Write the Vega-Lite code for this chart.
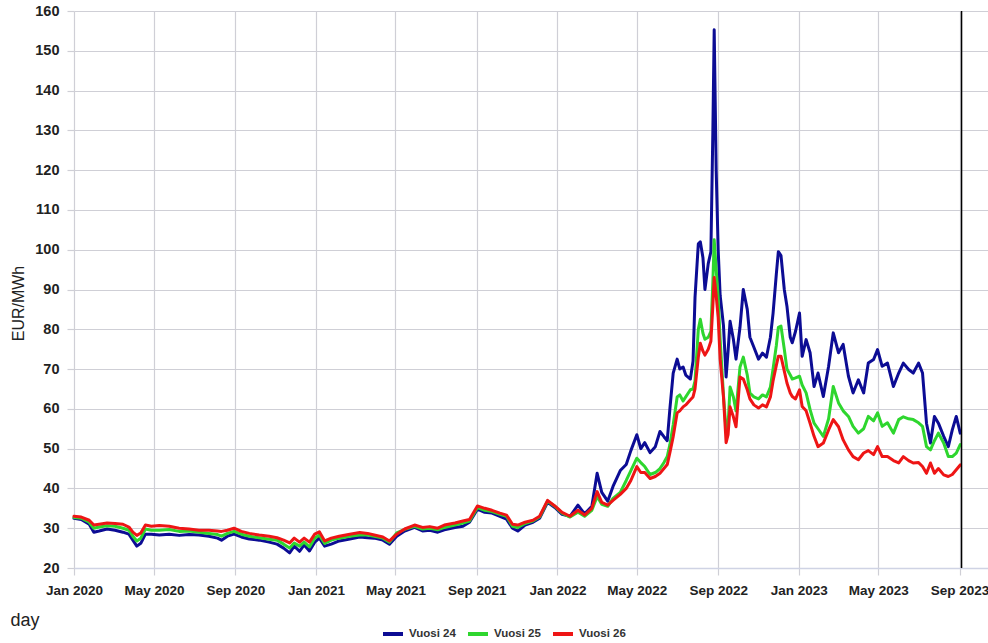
{
  "$schema": "https://vega.github.io/schema/vega-lite/v6.json",
  "autosize": "none",
  "width": 914,
  "height": 557,
  "padding": {"left": 74, "top": 11, "right": 0, "bottom": 75},
  "background": "white",
  "config": {
    "view": {"stroke": null},
    "font": "Liberation Sans, Arial, sans-serif",
    "axis": {
      "gridColor": "#cfcfd6",
      "gridWidth": 1.2,
      "tickColor": "#cfcfd6",
      "tickSize": 7,
      "tickWidth": 1.2,
      "labelFont": "Liberation Sans, Arial, sans-serif",
      "labelFontWeight": "bold",
      "labelFontSize": 14.5,
      "labelColor": "#222222",
      "titleFont": "Liberation Sans, Arial, sans-serif",
      "titleFontWeight": "normal",
      "titleColor": "#222222"
    }
  },
  "layer": [
    {
      "data": {
        "values": [
          {"d": "2020-01-01", "Vuosi 24": 32.5, "Vuosi 25": 32.7, "Vuosi 26": 33.0},
          {"d": "2020-01-12", "Vuosi 24": 32.2, "Vuosi 25": 32.5, "Vuosi 26": 32.8},
          {"d": "2020-01-24", "Vuosi 24": 31.0, "Vuosi 25": 31.5, "Vuosi 26": 32.0},
          {"d": "2020-01-31", "Vuosi 24": 29.0, "Vuosi 25": 30.0, "Vuosi 26": 30.8},
          {"d": "2020-02-08", "Vuosi 24": 29.3, "Vuosi 25": 30.3, "Vuosi 26": 31.0},
          {"d": "2020-02-20", "Vuosi 24": 29.8, "Vuosi 25": 30.6, "Vuosi 26": 31.3},
          {"d": "2020-03-03", "Vuosi 24": 29.5, "Vuosi 25": 30.5, "Vuosi 26": 31.2},
          {"d": "2020-03-15", "Vuosi 24": 29.0, "Vuosi 25": 30.0, "Vuosi 26": 31.0},
          {"d": "2020-03-24", "Vuosi 24": 28.5, "Vuosi 25": 29.5, "Vuosi 26": 30.3},
          {"d": "2020-03-30", "Vuosi 24": 27.0, "Vuosi 25": 28.0, "Vuosi 26": 29.0},
          {"d": "2020-04-05", "Vuosi 24": 25.5, "Vuosi 25": 26.8, "Vuosi 26": 28.2},
          {"d": "2020-04-11", "Vuosi 24": 26.2, "Vuosi 25": 27.5, "Vuosi 26": 28.8},
          {"d": "2020-04-18", "Vuosi 24": 28.5, "Vuosi 25": 29.8, "Vuosi 26": 30.8},
          {"d": "2020-04-27", "Vuosi 24": 28.5, "Vuosi 25": 29.5, "Vuosi 26": 30.5},
          {"d": "2020-05-09", "Vuosi 24": 28.3, "Vuosi 25": 29.5, "Vuosi 26": 30.7},
          {"d": "2020-05-24", "Vuosi 24": 28.5, "Vuosi 25": 29.7, "Vuosi 26": 30.5},
          {"d": "2020-06-08", "Vuosi 24": 28.2, "Vuosi 25": 29.2, "Vuosi 26": 30.0},
          {"d": "2020-06-23", "Vuosi 24": 28.4, "Vuosi 25": 29.3, "Vuosi 26": 29.8},
          {"d": "2020-07-08", "Vuosi 24": 28.3, "Vuosi 25": 29.0, "Vuosi 26": 29.5},
          {"d": "2020-07-23", "Vuosi 24": 28.0, "Vuosi 25": 28.7, "Vuosi 26": 29.5},
          {"d": "2020-08-05", "Vuosi 24": 27.5, "Vuosi 25": 28.4, "Vuosi 26": 29.3},
          {"d": "2020-08-11", "Vuosi 24": 27.0, "Vuosi 25": 28.0, "Vuosi 26": 29.2},
          {"d": "2020-08-20", "Vuosi 24": 28.0, "Vuosi 25": 28.7, "Vuosi 26": 29.5},
          {"d": "2020-08-30", "Vuosi 24": 28.5, "Vuosi 25": 29.2, "Vuosi 26": 30.0},
          {"d": "2020-09-10", "Vuosi 24": 27.8, "Vuosi 25": 28.5, "Vuosi 26": 29.2},
          {"d": "2020-09-22", "Vuosi 24": 27.3, "Vuosi 25": 28.0, "Vuosi 26": 28.7},
          {"d": "2020-10-07", "Vuosi 24": 27.0, "Vuosi 25": 27.6, "Vuosi 26": 28.3},
          {"d": "2020-10-22", "Vuosi 24": 26.5, "Vuosi 25": 27.2, "Vuosi 26": 28.0},
          {"d": "2020-11-03", "Vuosi 24": 26.0, "Vuosi 25": 27.0, "Vuosi 26": 27.6},
          {"d": "2020-11-13", "Vuosi 24": 25.0, "Vuosi 25": 26.0, "Vuosi 26": 27.0},
          {"d": "2020-11-22", "Vuosi 24": 23.8, "Vuosi 25": 25.0, "Vuosi 26": 26.3},
          {"d": "2020-11-29", "Vuosi 24": 25.5, "Vuosi 25": 26.3, "Vuosi 26": 27.5},
          {"d": "2020-12-07", "Vuosi 24": 24.2, "Vuosi 25": 25.5, "Vuosi 26": 26.5},
          {"d": "2020-12-14", "Vuosi 24": 25.8, "Vuosi 25": 26.5, "Vuosi 26": 27.5},
          {"d": "2020-12-22", "Vuosi 24": 24.3, "Vuosi 25": 25.3, "Vuosi 26": 26.5},
          {"d": "2020-12-30", "Vuosi 24": 26.5, "Vuosi 25": 27.5, "Vuosi 26": 28.5},
          {"d": "2021-01-06", "Vuosi 24": 27.5, "Vuosi 25": 28.3, "Vuosi 26": 29.1},
          {"d": "2021-01-14", "Vuosi 24": 25.5, "Vuosi 25": 26.2, "Vuosi 26": 26.8},
          {"d": "2021-01-24", "Vuosi 24": 26.0, "Vuosi 25": 27.0, "Vuosi 26": 27.5},
          {"d": "2021-02-05", "Vuosi 24": 26.8, "Vuosi 25": 27.5, "Vuosi 26": 28.0},
          {"d": "2021-02-21", "Vuosi 24": 27.3, "Vuosi 25": 28.0, "Vuosi 26": 28.5},
          {"d": "2021-03-08", "Vuosi 24": 27.8, "Vuosi 25": 28.3, "Vuosi 26": 28.9},
          {"d": "2021-03-20", "Vuosi 24": 27.6, "Vuosi 25": 28.3, "Vuosi 26": 28.7},
          {"d": "2021-03-30", "Vuosi 24": 27.5, "Vuosi 25": 28.0, "Vuosi 26": 28.3},
          {"d": "2021-04-12", "Vuosi 24": 27.0, "Vuosi 25": 27.5, "Vuosi 26": 27.8},
          {"d": "2021-04-22", "Vuosi 24": 26.0, "Vuosi 25": 26.5, "Vuosi 26": 26.8},
          {"d": "2021-05-03", "Vuosi 24": 28.0, "Vuosi 25": 28.8, "Vuosi 26": 28.5},
          {"d": "2021-05-15", "Vuosi 24": 29.3, "Vuosi 25": 29.7, "Vuosi 26": 29.8},
          {"d": "2021-05-30", "Vuosi 24": 30.2, "Vuosi 25": 30.5, "Vuosi 26": 30.8},
          {"d": "2021-06-11", "Vuosi 24": 29.3, "Vuosi 25": 29.8, "Vuosi 26": 30.2},
          {"d": "2021-06-22", "Vuosi 24": 29.5, "Vuosi 25": 30.0, "Vuosi 26": 30.4},
          {"d": "2021-07-04", "Vuosi 24": 29.0, "Vuosi 25": 29.6, "Vuosi 26": 30.0},
          {"d": "2021-07-14", "Vuosi 24": 29.6, "Vuosi 25": 30.2, "Vuosi 26": 30.8},
          {"d": "2021-07-30", "Vuosi 24": 30.2, "Vuosi 25": 30.8, "Vuosi 26": 31.3},
          {"d": "2021-08-11", "Vuosi 24": 30.5, "Vuosi 25": 31.3, "Vuosi 26": 31.8},
          {"d": "2021-08-21", "Vuosi 24": 31.5, "Vuosi 25": 31.8, "Vuosi 26": 32.2},
          {"d": "2021-09-02", "Vuosi 24": 34.8, "Vuosi 25": 35.2, "Vuosi 26": 35.6},
          {"d": "2021-09-13", "Vuosi 24": 34.0, "Vuosi 25": 34.5, "Vuosi 26": 35.0},
          {"d": "2021-09-24", "Vuosi 24": 33.8, "Vuosi 25": 34.2, "Vuosi 26": 34.5},
          {"d": "2021-10-06", "Vuosi 24": 33.0, "Vuosi 25": 33.5, "Vuosi 26": 33.8},
          {"d": "2021-10-16", "Vuosi 24": 32.3, "Vuosi 25": 33.0, "Vuosi 26": 33.3},
          {"d": "2021-10-25", "Vuosi 24": 30.0, "Vuosi 25": 30.5, "Vuosi 26": 31.0},
          {"d": "2021-11-02", "Vuosi 24": 29.3, "Vuosi 25": 30.2, "Vuosi 26": 30.8},
          {"d": "2021-11-13", "Vuosi 24": 30.8, "Vuosi 25": 31.2, "Vuosi 26": 31.5},
          {"d": "2021-11-25", "Vuosi 24": 31.5, "Vuosi 25": 31.8, "Vuosi 26": 32.0},
          {"d": "2021-12-05", "Vuosi 24": 32.5, "Vuosi 25": 32.8, "Vuosi 26": 33.0},
          {"d": "2021-12-17", "Vuosi 24": 36.5, "Vuosi 25": 36.8, "Vuosi 26": 37.0},
          {"d": "2021-12-28", "Vuosi 24": 35.2, "Vuosi 25": 35.5, "Vuosi 26": 35.6},
          {"d": "2022-01-08", "Vuosi 24": 33.5, "Vuosi 25": 33.8, "Vuosi 26": 34.0},
          {"d": "2022-01-20", "Vuosi 24": 33.0, "Vuosi 25": 32.8, "Vuosi 26": 33.0},
          {"d": "2022-02-01", "Vuosi 24": 35.8, "Vuosi 25": 34.0, "Vuosi 26": 34.5},
          {"d": "2022-02-11", "Vuosi 24": 33.6, "Vuosi 25": 33.0, "Vuosi 26": 33.3},
          {"d": "2022-02-22", "Vuosi 24": 35.5, "Vuosi 25": 34.5, "Vuosi 26": 35.0},
          {"d": "2022-03-02", "Vuosi 24": 43.8, "Vuosi 25": 38.0, "Vuosi 26": 39.2},
          {"d": "2022-03-09", "Vuosi 24": 39.0, "Vuosi 25": 36.0, "Vuosi 26": 36.5},
          {"d": "2022-03-18", "Vuosi 24": 36.8, "Vuosi 25": 35.5, "Vuosi 26": 35.8},
          {"d": "2022-03-26", "Vuosi 24": 40.5, "Vuosi 25": 37.5, "Vuosi 26": 37.0},
          {"d": "2022-04-06", "Vuosi 24": 44.5, "Vuosi 25": 39.0, "Vuosi 26": 38.5},
          {"d": "2022-04-15", "Vuosi 24": 46.0, "Vuosi 25": 42.0, "Vuosi 26": 40.0},
          {"d": "2022-04-22", "Vuosi 24": 49.5, "Vuosi 25": 44.5, "Vuosi 26": 42.0},
          {"d": "2022-05-01", "Vuosi 24": 53.5, "Vuosi 25": 47.6, "Vuosi 26": 45.5},
          {"d": "2022-05-07", "Vuosi 24": 50.0, "Vuosi 25": 46.5, "Vuosi 26": 44.0},
          {"d": "2022-05-13", "Vuosi 24": 51.5, "Vuosi 25": 45.5, "Vuosi 26": 44.0},
          {"d": "2022-05-21", "Vuosi 24": 49.0, "Vuosi 25": 43.5, "Vuosi 26": 42.5},
          {"d": "2022-05-29", "Vuosi 24": 50.5, "Vuosi 25": 44.0, "Vuosi 26": 43.0},
          {"d": "2022-06-05", "Vuosi 24": 54.3, "Vuosi 25": 45.0, "Vuosi 26": 43.8},
          {"d": "2022-06-11", "Vuosi 24": 53.0, "Vuosi 25": 46.5, "Vuosi 26": 45.0},
          {"d": "2022-06-16", "Vuosi 24": 52.0, "Vuosi 25": 48.0, "Vuosi 26": 46.0},
          {"d": "2022-06-20", "Vuosi 24": 60.0, "Vuosi 25": 51.0, "Vuosi 26": 49.0},
          {"d": "2022-06-25", "Vuosi 24": 69.0, "Vuosi 25": 56.0, "Vuosi 26": 53.0},
          {"d": "2022-07-01", "Vuosi 24": 72.5, "Vuosi 25": 63.0, "Vuosi 26": 59.0},
          {"d": "2022-07-05", "Vuosi 24": 70.0, "Vuosi 25": 63.5, "Vuosi 26": 59.5},
          {"d": "2022-07-10", "Vuosi 24": 70.5, "Vuosi 25": 62.0, "Vuosi 26": 60.5},
          {"d": "2022-07-14", "Vuosi 24": 68.5, "Vuosi 25": 63.0, "Vuosi 26": 61.0},
          {"d": "2022-07-21", "Vuosi 24": 67.5, "Vuosi 25": 64.8, "Vuosi 26": 62.3},
          {"d": "2022-07-25", "Vuosi 24": 72.0, "Vuosi 25": 65.0, "Vuosi 26": 63.0},
          {"d": "2022-07-28", "Vuosi 24": 88.0, "Vuosi 25": 67.0, "Vuosi 26": 65.0},
          {"d": "2022-08-02", "Vuosi 24": 101.5, "Vuosi 25": 80.0, "Vuosi 26": 73.0},
          {"d": "2022-08-05", "Vuosi 24": 102.0, "Vuosi 25": 82.5, "Vuosi 26": 76.5},
          {"d": "2022-08-09", "Vuosi 24": 98.0, "Vuosi 25": 79.0, "Vuosi 26": 74.5},
          {"d": "2022-08-12", "Vuosi 24": 90.0, "Vuosi 25": 77.5, "Vuosi 26": 73.5},
          {"d": "2022-08-17", "Vuosi 24": 96.5, "Vuosi 25": 78.0, "Vuosi 26": 75.0},
          {"d": "2022-08-21", "Vuosi 24": 99.5, "Vuosi 25": 79.5, "Vuosi 26": 77.0},
          {"d": "2022-08-24", "Vuosi 24": 130.0, "Vuosi 25": 92.0, "Vuosi 26": 86.0},
          {"d": "2022-08-26", "Vuosi 24": 155.3, "Vuosi 25": 102.5, "Vuosi 26": 93.0},
          {"d": "2022-08-29", "Vuosi 24": 120.0, "Vuosi 25": 95.0, "Vuosi 26": 88.5},
          {"d": "2022-09-01", "Vuosi 24": 100.0, "Vuosi 25": 88.0, "Vuosi 26": 83.0},
          {"d": "2022-09-04", "Vuosi 24": 88.5, "Vuosi 25": 77.5, "Vuosi 26": 72.5},
          {"d": "2022-09-09", "Vuosi 24": 81.0, "Vuosi 25": 63.5, "Vuosi 26": 63.0},
          {"d": "2022-09-13", "Vuosi 24": 68.0, "Vuosi 25": 54.5, "Vuosi 26": 51.5},
          {"d": "2022-09-16", "Vuosi 24": 74.5, "Vuosi 25": 56.0, "Vuosi 26": 53.5},
          {"d": "2022-09-19", "Vuosi 24": 82.0, "Vuosi 25": 65.5, "Vuosi 26": 60.5},
          {"d": "2022-09-24", "Vuosi 24": 77.5, "Vuosi 25": 63.0, "Vuosi 26": 58.0},
          {"d": "2022-09-28", "Vuosi 24": 72.5, "Vuosi 25": 59.5, "Vuosi 26": 55.5},
          {"d": "2022-10-04", "Vuosi 24": 80.5, "Vuosi 25": 70.5, "Vuosi 26": 68.0},
          {"d": "2022-10-09", "Vuosi 24": 90.0, "Vuosi 25": 73.0, "Vuosi 26": 67.5},
          {"d": "2022-10-15", "Vuosi 24": 85.0, "Vuosi 25": 68.5, "Vuosi 26": 64.8},
          {"d": "2022-10-19", "Vuosi 24": 78.0, "Vuosi 25": 64.0, "Vuosi 26": 62.5},
          {"d": "2022-10-25", "Vuosi 24": 75.5, "Vuosi 25": 63.0, "Vuosi 26": 61.0},
          {"d": "2022-11-01", "Vuosi 24": 72.5, "Vuosi 25": 62.5, "Vuosi 26": 60.2},
          {"d": "2022-11-07", "Vuosi 24": 74.0, "Vuosi 25": 63.5, "Vuosi 26": 61.0},
          {"d": "2022-11-13", "Vuosi 24": 73.0, "Vuosi 25": 63.0, "Vuosi 26": 60.5},
          {"d": "2022-11-19", "Vuosi 24": 78.0, "Vuosi 25": 65.5, "Vuosi 26": 63.0},
          {"d": "2022-11-23", "Vuosi 24": 84.0, "Vuosi 25": 70.0, "Vuosi 26": 67.0},
          {"d": "2022-11-28", "Vuosi 24": 94.0, "Vuosi 25": 76.0, "Vuosi 26": 71.0},
          {"d": "2022-12-01", "Vuosi 24": 99.5, "Vuosi 25": 80.5, "Vuosi 26": 73.2},
          {"d": "2022-12-05", "Vuosi 24": 98.5, "Vuosi 25": 80.8, "Vuosi 26": 73.2},
          {"d": "2022-12-10", "Vuosi 24": 90.0, "Vuosi 25": 75.0, "Vuosi 26": 69.5},
          {"d": "2022-12-14", "Vuosi 24": 85.8, "Vuosi 25": 70.0, "Vuosi 26": 66.5},
          {"d": "2022-12-19", "Vuosi 24": 78.0, "Vuosi 25": 68.5, "Vuosi 26": 64.0},
          {"d": "2022-12-22", "Vuosi 24": 76.6, "Vuosi 25": 67.5, "Vuosi 26": 63.1},
          {"d": "2022-12-27", "Vuosi 24": 79.5, "Vuosi 25": 67.8, "Vuosi 26": 62.5},
          {"d": "2023-01-02", "Vuosi 24": 84.1, "Vuosi 25": 68.2, "Vuosi 26": 64.8},
          {"d": "2023-01-06", "Vuosi 24": 73.2, "Vuosi 25": 66.0, "Vuosi 26": 60.6},
          {"d": "2023-01-12", "Vuosi 24": 77.4, "Vuosi 25": 64.0, "Vuosi 26": 59.5},
          {"d": "2023-01-18", "Vuosi 24": 74.1, "Vuosi 25": 59.8, "Vuosi 26": 56.4},
          {"d": "2023-01-24", "Vuosi 24": 65.6, "Vuosi 25": 56.4, "Vuosi 26": 53.1},
          {"d": "2023-01-30", "Vuosi 24": 69.0, "Vuosi 25": 55.0, "Vuosi 26": 50.5},
          {"d": "2023-02-07", "Vuosi 24": 63.1, "Vuosi 25": 53.1, "Vuosi 26": 51.4},
          {"d": "2023-02-15", "Vuosi 24": 70.7, "Vuosi 25": 57.5, "Vuosi 26": 54.7},
          {"d": "2023-02-22", "Vuosi 24": 79.1, "Vuosi 25": 65.6, "Vuosi 26": 57.3},
          {"d": "2023-03-02", "Vuosi 24": 74.1, "Vuosi 25": 61.5, "Vuosi 26": 55.5},
          {"d": "2023-03-09", "Vuosi 24": 76.2, "Vuosi 25": 59.5, "Vuosi 26": 52.2},
          {"d": "2023-03-17", "Vuosi 24": 68.2, "Vuosi 25": 58.1, "Vuosi 26": 49.7},
          {"d": "2023-03-24", "Vuosi 24": 64.0, "Vuosi 25": 55.6, "Vuosi 26": 48.0},
          {"d": "2023-04-01", "Vuosi 24": 67.3, "Vuosi 25": 53.9, "Vuosi 26": 47.2},
          {"d": "2023-04-09", "Vuosi 24": 64.0, "Vuosi 25": 55.0, "Vuosi 26": 48.9},
          {"d": "2023-04-16", "Vuosi 24": 71.5, "Vuosi 25": 58.1, "Vuosi 26": 49.5},
          {"d": "2023-04-24", "Vuosi 24": 72.4, "Vuosi 25": 57.0, "Vuosi 26": 48.5},
          {"d": "2023-04-30", "Vuosi 24": 74.9, "Vuosi 25": 59.0, "Vuosi 26": 50.5},
          {"d": "2023-05-07", "Vuosi 24": 70.7, "Vuosi 25": 55.6, "Vuosi 26": 48.0},
          {"d": "2023-05-15", "Vuosi 24": 71.5, "Vuosi 25": 56.5, "Vuosi 26": 48.0},
          {"d": "2023-05-24", "Vuosi 24": 65.6, "Vuosi 25": 53.9, "Vuosi 26": 47.0},
          {"d": "2023-06-01", "Vuosi 24": 69.0, "Vuosi 25": 57.3, "Vuosi 26": 46.4},
          {"d": "2023-06-08", "Vuosi 24": 71.5, "Vuosi 25": 58.0, "Vuosi 26": 48.0},
          {"d": "2023-06-16", "Vuosi 24": 69.9, "Vuosi 25": 57.5, "Vuosi 26": 47.0},
          {"d": "2023-06-23", "Vuosi 24": 69.0, "Vuosi 25": 57.3, "Vuosi 26": 46.4},
          {"d": "2023-07-01", "Vuosi 24": 71.5, "Vuosi 25": 56.5, "Vuosi 26": 46.5},
          {"d": "2023-07-07", "Vuosi 24": 69.0, "Vuosi 25": 55.6, "Vuosi 26": 45.5},
          {"d": "2023-07-13", "Vuosi 24": 56.4, "Vuosi 25": 50.5, "Vuosi 26": 43.8},
          {"d": "2023-07-19", "Vuosi 24": 51.4, "Vuosi 25": 49.7, "Vuosi 26": 46.4},
          {"d": "2023-07-25", "Vuosi 24": 58.1, "Vuosi 25": 52.0, "Vuosi 26": 43.8},
          {"d": "2023-07-31", "Vuosi 24": 56.4, "Vuosi 25": 53.9, "Vuosi 26": 45.0},
          {"d": "2023-08-08", "Vuosi 24": 53.1, "Vuosi 25": 51.4, "Vuosi 26": 43.4},
          {"d": "2023-08-15", "Vuosi 24": 50.5, "Vuosi 25": 48.0, "Vuosi 26": 43.0},
          {"d": "2023-08-21", "Vuosi 24": 54.7, "Vuosi 25": 48.0, "Vuosi 26": 43.5},
          {"d": "2023-08-27", "Vuosi 24": 58.1, "Vuosi 25": 48.9, "Vuosi 26": 44.7},
          {"d": "2023-09-02", "Vuosi 24": 53.9, "Vuosi 25": 51.0, "Vuosi 26": 45.9}
        ]
      },
      "transform": [
        {"fold": ["Vuosi 24", "Vuosi 25", "Vuosi 26"], "as": ["series", "value"]}
      ],
      "mark": {"type": "line", "strokeWidth": 3, "strokeJoin": "round", "strokeCap": "round"},
      "encoding": {
        "x": {
          "field": "d",
          "type": "temporal",
          "scale": {
            "type": "utc",
            "domain": [
              {"year": 2020, "month": 1, "date": 1, "utc": true},
              {"year": 2023, "month": 10, "date": 14, "utc": true}
            ]
          },
          "axis": {
            "tickCount": {"interval": "month", "step": 4},
            "labelExpr": "utcFormat(datum.value, '%b %Y')",
            "labelFontSize": 13.5,
            "labelPadding": 8,
            "labelOverlap": false,
            "labelBound": false,
            "labelFlush": false,
            "domainColor": "#cfd3e4",
            "domainWidth": 1.5,
            "title": "day",
            "titleFontSize": 18,
            "titleAnchor": "start",
            "titleAlign": "left",
            "titleBaseline": "alphabetic",
            "titleX": -64,
            "titleY": 57
          }
        },
        "y": {
          "field": "value",
          "type": "quantitative",
          "scale": {"domain": [20, 160], "nice": false, "zero": false},
          "axis": {
            "values": [20, 30, 40, 50, 60, 70, 80, 90, 100, 110, 120, 130, 140, 150, 160],
            "domain": false,
            "labelPadding": 8,
            "title": "EUR/MWh",
            "titleFontSize": 16,
            "titleAngle": 270,
            "titleAlign": "center",
            "titleBaseline": "middle",
            "titleX": -56,
            "titleY": 292
          }
        },
        "color": {
          "field": "series",
          "type": "nominal",
          "scale": {
            "domain": ["Vuosi 24", "Vuosi 25", "Vuosi 26"],
            "range": ["#0c0c94", "#2ed62e", "#ee1515"]
          },
          "legend": {
            "title": null,
            "orient": "none",
            "direction": "horizontal",
            "legendX": 307,
            "legendY": 611,
            "symbolType": "stroke",
            "symbolSize": 400,
            "symbolStrokeWidth": 4,
            "labelFont": "Liberation Sans, Arial, sans-serif",
            "labelFontWeight": "bold",
            "labelFontSize": 11.5,
            "labelColor": "#333333",
            "labelOffset": 4,
            "columnPadding": 4
          }
        }
      }
    },
    {
      "data": {"values": [{"d": "2023-09-04"}]},
      "mark": {"type": "rule", "color": "#000000", "strokeWidth": 1.5},
      "encoding": {
        "x": {"field": "d", "type": "temporal"}
      }
    }
  ]
}
